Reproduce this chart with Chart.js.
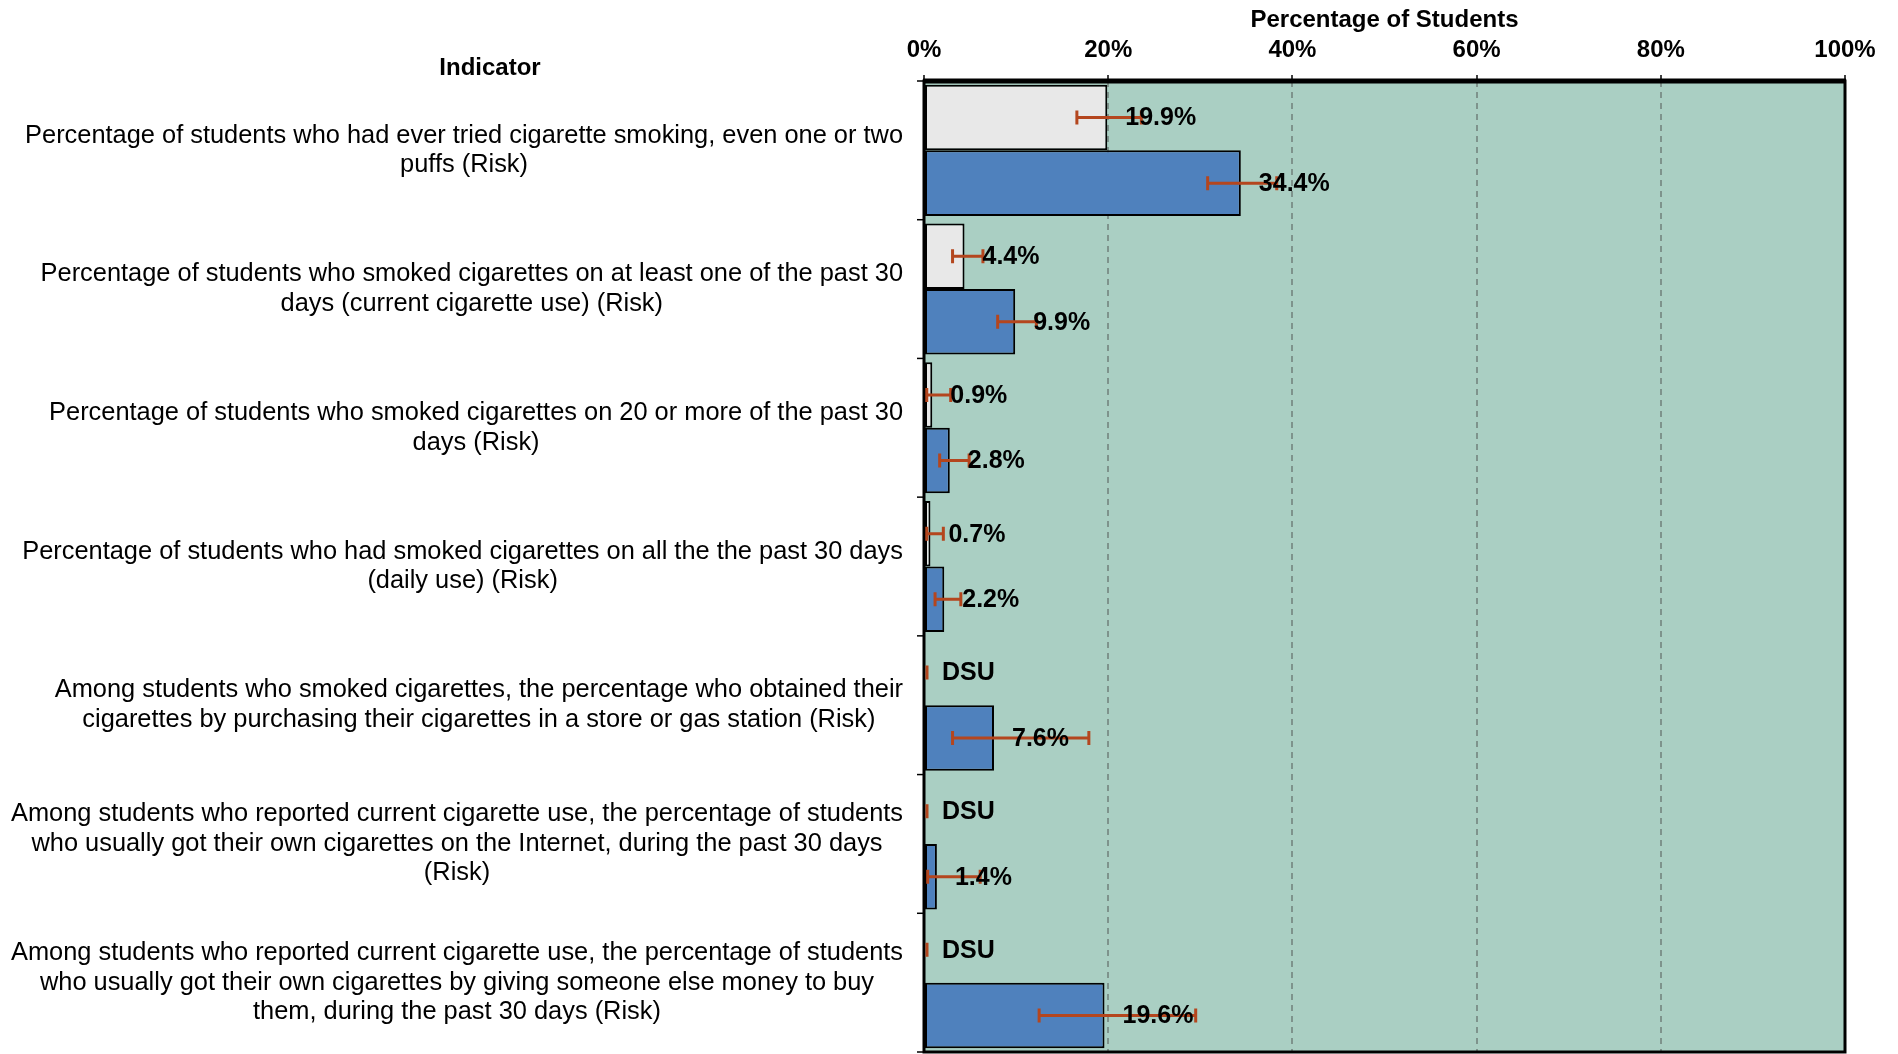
<!DOCTYPE html>
<html>
<head>
<meta charset="utf-8">
<script src="https://cdn.jsdelivr.net/npm/chart.js@4.4.0/dist/chart.umd.min.js"></script>
<style>
  html, body { margin: 0; padding: 0; background: #fff; }
  #wrap { width: 1898px; height: 1054px; }
</style>
</head>
<body>
<div id="wrap"><canvas id="chartCanvas"></canvas></div>
<script>
"use strict";

const indicators = [
  ["Percentage of students who had ever tried cigarette smoking, even one or two", "puffs (Risk)"],
  ["Percentage of students who smoked cigarettes on at least one of the past 30", "days (current cigarette use) (Risk)"],
  ["Percentage of students who smoked cigarettes on 20 or more of the past 30", "days (Risk)"],
  ["Percentage of students who had smoked cigarettes on all the the past 30 days", "(daily use) (Risk)"],
  ["Among students who smoked cigarettes, the percentage who obtained their", "cigarettes by purchasing their cigarettes in a store or gas station (Risk)"],
  ["Among students who reported current cigarette use, the percentage of students", "who usually got their own cigarettes on the Internet, during the past 30 days", "(Risk)"],
  ["Among students who reported current cigarette use, the percentage of students", "who usually got their own cigarettes by giving someone else money to buy", "them, during the past 30 days (Risk)"]
];

// gray series (null = DSU)
const compareValues = [19.9, 4.4, 0.9, 0.7, null, null, null];
const compareLow = [16.6, 3.1, 0.3, 0.3, 0, 0, 0];
const compareHigh = [23.6, 6.4, 2.9, 2.1, 0, 0, 0];

// blue series
const currentValues = [34.4, 9.9, 2.8, 2.2, 7.6, 1.4, 19.6];
const currentLow = [30.8, 8.0, 1.7, 1.2, 3.1, 0.4, 12.5];
const currentHigh = [38.3, 12.2, 4.9, 4.0, 17.9, 6.1, 29.5];

const xTicks = [0, 20, 40, 60, 80, 100];

const FONT = "'Liberation Sans', Arial, Helvetica, sans-serif";
const errColor = "#B4461E";

const errorBars = [
  { low: compareLow, high: compareHigh },
  { low: currentLow, high: currentHigh }
];

const chartExtras = {
  id: "chartExtras",
  beforeDraw(chart) {
    const { ctx, chartArea } = chart;
    ctx.save();
    ctx.fillStyle = "#AACFC3";
    ctx.fillRect(chartArea.left, chartArea.top, chartArea.right - chartArea.left, chartArea.bottom - chartArea.top);
    ctx.restore();
  },
  afterDatasetsDraw(chart) {
    const { ctx, chartArea } = chart;
    const xScale = chart.scales.x;
    const n = indicators.length;
    const step = (chartArea.bottom - chartArea.top) / n;
    ctx.save();

    // plot frame
    ctx.strokeStyle = "#000";
    ctx.lineWidth = 3;
    ctx.strokeRect(chartArea.left, chartArea.top, chartArea.right - chartArea.left, chartArea.bottom - chartArea.top);
    ctx.lineWidth = 5;
    ctx.beginPath();
    ctx.moveTo(chartArea.left - 1, chartArea.top);
    ctx.lineTo(chartArea.right + 1, chartArea.top);
    ctx.stroke();

    // category tick marks
    ctx.lineWidth = 1.5;
    for (let i = 0; i <= n; i++) {
      const y = chartArea.top + i * step;
      ctx.beginPath();
      ctx.moveTo(chartArea.left - 7, y);
      ctx.lineTo(chartArea.left, y);
      ctx.stroke();
    }

    // error bars
    chart.data.datasets.forEach((ds, di) => {
      const meta = chart.getDatasetMeta(di);
      meta.data.forEach((bar, i) => {
        const y = bar.y;
        const shift = errorBars[di].high[i] === 0 ? 3 : 0;
        const x1 = xScale.getPixelForValue(errorBars[di].low[i]) + shift;
        const x2 = xScale.getPixelForValue(errorBars[di].high[i]) + shift;
        ctx.strokeStyle = errColor;
        ctx.lineWidth = 3;
        ctx.beginPath();
        ctx.moveTo(x1, y); ctx.lineTo(x2, y);
        ctx.moveTo(x1, y - 7); ctx.lineTo(x1, y + 7);
        ctx.moveTo(x2, y - 7); ctx.lineTo(x2, y + 7);
        ctx.stroke();
      });
    });

    // data labels
    ctx.font = "bold 25px " + FONT;
    ctx.fillStyle = "#000";
    ctx.textBaseline = "middle";
    ctx.textAlign = "left";
    chart.data.datasets.forEach((ds, di) => {
      const meta = chart.getDatasetMeta(di);
      meta.data.forEach((bar, i) => {
        const v = ds.data[i];
        const text = v === null ? "DSU" : v.toFixed(1) + "%";
        const x = xScale.getPixelForValue(v === null ? 0 : v) + 18;
        ctx.fillText(text, x, bar.y + 1);
      });
    });
    ctx.restore();
  },
  afterDraw(chart) {
    const { ctx, chartArea } = chart;
    const yScale = chart.scales.y;
    ctx.save();

    // category labels
    ctx.font = "25.4px " + FONT;
    ctx.fillStyle = "#000";
    ctx.textAlign = "center";
    ctx.textBaseline = "middle";
    const right = chartArea.left - 21;
    const lh = 29.5;
    indicators.forEach((lines, i) => {
      const yc = yScale.getPixelForValue(i);
      const maxW = Math.max(...lines.map(l => ctx.measureText(l).width));
      const cx = right - maxW / 2;
      lines.forEach((line, k) => {
        ctx.fillText(line, cx, yc + (k - (lines.length - 1) / 2) * lh);
      });
    });

    ctx.font = "bold 24px " + FONT;
    ctx.fillText("Indicator", 490, 68);
    ctx.restore();
  }
};

document.addEventListener("DOMContentLoaded", () => {
  const ctx = document.querySelector("#chartCanvas").getContext("2d");

  new Chart(ctx, {
    type: "bar",
    data: {
      labels: indicators,
      datasets: [
        {
          label: "Comparison",
          data: compareValues,
          backgroundColor: "#E8E8E8",
          borderColor: "#000",
          borderWidth: 2,
          borderSkipped: false
        },
        {
          label: "Current",
          data: currentValues,
          backgroundColor: "#4F81BD",
          borderColor: "#000",
          borderWidth: 2,
          borderSkipped: false
        }
      ]
    },
    options: {
      indexAxis: "y",
      responsive: true,
      maintainAspectRatio: false,
      animation: false,
      layout: { padding: { top: 0, right: 53, bottom: 2, left: 0 } },
      categoryPercentage: 0.945,
      barPercentage: 1.0,
      plugins: {
        legend: { display: false },
        tooltip: { enabled: false }
      },
      scales: {
        x: {
          position: "top",
          min: 0,
          max: 100,
          afterBuildTicks: scale => {
            scale.ticks = xTicks.map(v => ({ value: v }));
          },
          afterFit: scale => { scale.height = 81; },
          ticks: {
            callback: v => v + "%",
            color: "#000",
            font: { family: FONT, size: 24, weight: "bold" },
            padding: 10,
            maxRotation: 0
          },
          grid: {
            drawTicks: true,
            tickLength: 6,
            tickColor: "#000",
            tickWidth: 1.5,
            lineWidth: 2,
            color: c => (c.tick && (c.tick.value === 0 || c.tick.value === 100)) ? "rgba(0,0,0,0)" : "#7E938C"
          },
          border: { display: false, dash: [6, 5] },
          title: {
            display: true,
            text: "Percentage of Students",
            color: "#000",
            font: { family: FONT, size: 24, weight: "bold" },
            padding: { top: 6, bottom: 0 }
          }
        },
        y: {
          afterFit: scale => { scale.width = 924; },
          ticks: { display: false },
          grid: { display: false },
          border: { display: false }
        }
      }
    },
    plugins: [chartExtras]
  });
});
</script>
</body>
</html>
